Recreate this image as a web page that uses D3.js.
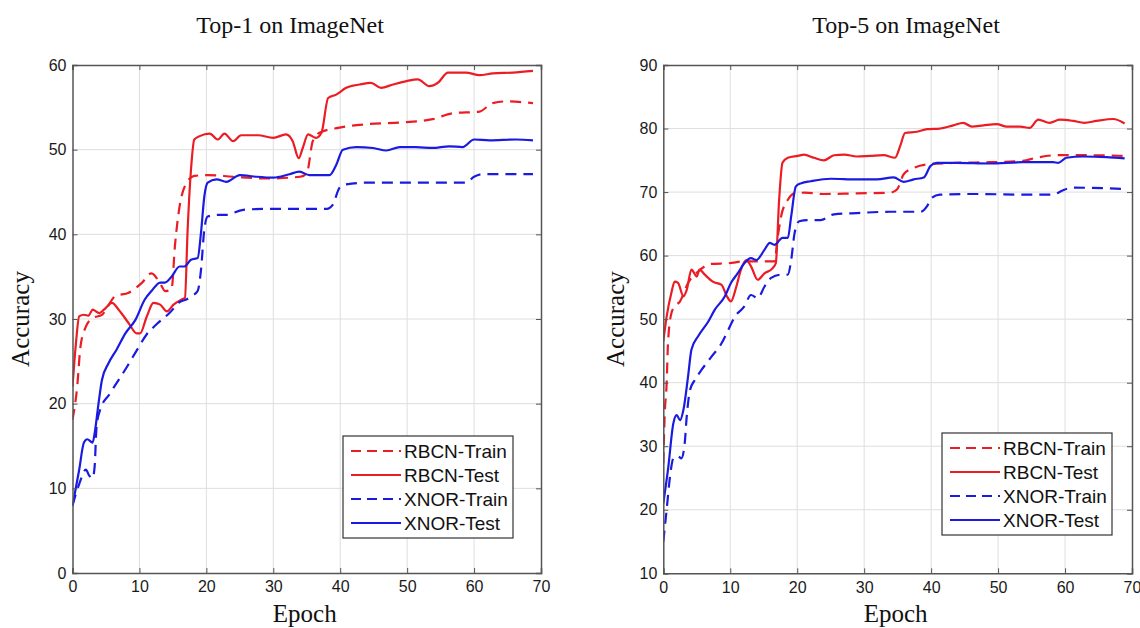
<!DOCTYPE html>
<html><head><meta charset="utf-8">
<script src="https://cdn.jsdelivr.net/npm/d3@7"></script>
<style>html,body{margin:0;padding:0;background:#fff;}svg{display:block;}</style>
</head><body>
<svg id="chart" width="1140" height="628"></svg>
<script>
// ---------- data: [epoch, accuracy] ----------
const seriesNames = ["RBCN-Train", "RBCN-Test", "XNOR-Train", "XNOR-Test"];
const top1XTicks = [0, 10, 20, 30, 40, 50, 60, 70];
const top1YTicks = [0, 10, 20, 30, 40, 50, 60];
const top5XTicks = [0, 10, 20, 30, 40, 50, 60, 70];
const top5YTicks = [10, 20, 30, 40, 50, 60, 70, 80, 90];

const top1RbcnTrain = [[0,18.1],[0.7,22],[1.2,26.8],[2,29.1],[3,30.1],[4.4,30.5],[6.4,32.7],[8.4,33.1],[10.4,34.3],[11.8,35.4],[13.3,33.9],[13.8,33.3],[14.8,33.5],[15.3,38.6],[16,43.3],[16.8,45.7],[18.2,46.9],[20.2,47.0],[24,46.8],[29,46.6],[34,46.8],[35,47.2],[35.9,51.0],[36.9,52.0],[39.9,52.6],[43.9,53.0],[48.9,53.2],[53.8,53.6],[56.8,54.3],[60.8,54.5],[62.8,55.5],[64.8,55.7],[68.8,55.5]];
const top1RbcnTest = [[0,22.0],[0.5,27],[1,30.3],[1.7,30.5],[2.4,30.4],[3,31.1],[4,30.7],[4.7,31.1],[5.9,31.9],[6.9,31.1],[8.4,29.5],[9.6,28.3],[10.1,28.3],[11.1,30.3],[12.1,31.9],[13.1,31.7],[14.1,30.9],[15.1,31.7],[16.3,32.3],[16.8,32.5],[17.2,40.5],[17.7,47.6],[18.2,51.2],[19,51.6],[20.5,51.9],[21.7,51.2],[22.7,51.9],[24,51.0],[25.2,51.7],[27.7,51.7],[30,51.4],[31.9,51.8],[32.9,51.0],[33.8,49.0],[34.4,50.2],[35.2,51.8],[36.4,51.4],[37.2,52.0],[38.2,56.1],[39.4,56.5],[40.9,57.3],[42.9,57.7],[44.6,57.9],[46.1,57.3],[47.9,57.7],[49.9,58.1],[51.6,58.3],[53.3,57.5],[54.6,57.9],[56.1,59.1],[58.8,59.1],[60.8,58.8],[62.8,59.0],[65.8,59.1],[68.8,59.3]];
const top1XnorTrain = [[0,8],[1,10.5],[2,12.2],[2.5,11.5],[3,11.2],[3.3,12.5],[3.6,17.3],[4.1,19.2],[5.6,21.2],[8.1,24.3],[9.6,26.3],[11.1,28.2],[12.6,29.4],[14.6,30.8],[16,32],[17,32.3],[18,32.8],[18.7,33.3],[19.2,35.8],[19.7,40.6],[20.2,42.1],[21.7,42.3],[23,42.3],[25.5,42.9],[29,43.0],[34,43.0],[38,43.0],[38.9,43.5],[39.9,45.5],[40.9,45.9],[43.9,46.1],[48.9,46.1],[53.8,46.1],[58.8,46.1],[60,46.8],[61.3,47.1],[68.8,47.1]];
const top1XnorTest = [[0,7.9],[1,12.2],[1.7,15.4],[2.2,15.8],[3,15.4],[3.4,17],[3.9,20.1],[4.4,22.8],[5.4,24.8],[6.6,26.4],[7.9,28.3],[9.4,29.9],[10.8,32.3],[11.8,33.3],[13.1,34.3],[13.8,34.3],[14.8,35.0],[16,36.2],[16.7,36.2],[17.7,37.0],[18.7,37.2],[19.2,40.2],[19.7,44.5],[20.2,46.1],[21.5,46.5],[23,46.2],[25,47.0],[27.5,46.8],[30,46.7],[32.4,47.1],[33.9,47.4],[35.4,47.0],[38.4,47.0],[39.4,48.2],[40.4,50.0],[42.4,50.3],[44.9,50.2],[46.9,49.9],[48.9,50.3],[51.3,50.3],[53.8,50.2],[56.3,50.4],[58.3,50.3],[60,51.2],[62.3,51.1],[66.3,51.2],[68.8,51.1]];

const top5RbcnTrain = [[0,27.3],[0.2,34.7],[0.5,39.9],[0.7,46.2],[1.2,50.9],[1.7,52],[2.5,52.8],[3.7,55.7],[5.2,57.5],[7.2,58.7],[9.8,58.8],[12.1,59.1],[14.6,59.1],[16.6,59.1],[17.1,63.0],[17.6,66.2],[18.6,68.8],[19.6,69.8],[21.1,69.9],[24,69.7],[28.9,69.8],[33.9,69.9],[34.9,70.4],[35.9,72.8],[37.4,73.8],[39.9,74.4],[43.8,74.6],[48.8,74.7],[53.7,74.9],[55.7,75.4],[58.7,75.8],[63.7,75.8],[68.6,75.7]];
const top5RbcnTest = [[0,46.5],[0.5,50.4],[1.2,54.1],[1.7,55.9],[2.2,55.7],[3,53.6],[3.5,54.6],[4.2,57.8],[5,56.7],[5.4,57.8],[6.2,57.0],[7.4,55.9],[8.7,55.4],[9.4,53.8],[10.1,52.8],[10.9,55.1],[11.6,57.8],[12.4,59.3],[13.1,58.3],[14.1,56.2],[15.1,57.2],[16.3,58.0],[16.8,58.8],[17.3,68.8],[17.8,74.6],[18.6,75.4],[20.1,75.7],[21,75.9],[22.5,75.4],[24,75.0],[25.5,75.8],[27,75.9],[28.9,75.6],[30.9,75.7],[32.9,75.8],[34.6,75.4],[35.4,77.3],[36.1,79.3],[37.9,79.5],[39.4,79.9],[41.3,80.0],[43.3,80.5],[44.8,80.9],[46.1,80.3],[47.8,80.5],[49.8,80.7],[51.3,80.3],[53.3,80.3],[54.7,80.1],[56,81.4],[57.7,80.9],[59.2,81.4],[61.2,81.2],[62.9,80.9],[64.7,81.2],[67.2,81.5],[68.9,80.8]];
const top5XnorTrain = [[0,15],[0.5,20],[1,25.2],[1.5,28.1],[2.2,28.4],[2.7,28.1],[3.2,30.5],[3.5,34.7],[4,38.9],[4.7,40.4],[5.7,42.0],[7.2,44.1],[8.7,46.2],[9.7,48.3],[10.7,50.4],[12.1,52.0],[13.1,53.8],[14.1,53.3],[15.1,55.1],[16.1,56.5],[17.6,57.0],[18.6,57.0],[19.1,59.3],[19.6,63.5],[20.3,65.4],[21.6,65.6],[23.5,65.6],[25.5,66.5],[28.9,66.7],[33.9,66.9],[38.4,66.9],[39.4,67.8],[40.1,69.1],[41.3,69.6],[46.3,69.7],[53.7,69.6],[58.2,69.6],[59.7,70.3],[61.2,70.7],[68.6,70.5]];
const top5XnorTest = [[0,21],[0.7,26.3],[1.5,33.6],[2,34.9],[2.5,34.1],[3,35.7],[3.7,41.0],[4.2,45.2],[5.2,47.3],[6.7,49.6],[7.7,51.5],[9.2,53.6],[10.1,55.7],[11.1,57.2],[12.1,58.8],[13.1,59.6],[13.9,59.3],[15.1,60.9],[15.9,62],[16.6,61.7],[17.8,62.8],[18.6,62.8],[19.1,66.2],[19.8,70.9],[20.6,71.4],[22,71.7],[25,72.1],[28.9,72.0],[31.9,72.0],[34.4,72.3],[35.9,71.6],[37.4,72.0],[38.9,72.3],[39.9,74.1],[40.8,74.6],[43.8,74.6],[48.8,74.5],[53.7,74.7],[58.2,74.7],[59,74.6],[60.2,75.4],[62.7,75.6],[66.2,75.5],[68.9,75.3]];

// ---------- drawing ----------
const svg = d3.select("#chart");
const RED = "#ec1c24", BLUE = "#1a1ae0";
const styles = [
  {color: RED, dash: "11,7"},
  {color: RED, dash: null},
  {color: BLUE, dash: "11,7"},
  {color: BLUE, dash: null}
];
const SERIF = "Liberation Serif, Times New Roman, serif";
const SANS = "Liberation Sans, Arial, sans-serif";

function panel(cfg) {
  const x = d3.scaleLinear().domain([0, 70]).range([cfg.left, cfg.right]);
  const y = d3.scaleLinear().domain(cfg.yDomain).range([cfg.bottom, cfg.top]);
  const g = svg.append("g");
  const id = "clip" + cfg.key;
  svg.append("defs").append("clipPath").attr("id", id).append("rect")
    .attr("x", cfg.left).attr("y", cfg.top)
    .attr("width", cfg.right - cfg.left).attr("height", cfg.bottom - cfg.top);

  // grid
  g.append("g").selectAll("line").data(cfg.xTicks.slice(1, -1)).join("line")
    .attr("x1", d => x(d)).attr("x2", d => x(d)).attr("y1", cfg.top).attr("y2", cfg.bottom)
    .attr("stroke", "#dedede").attr("stroke-width", 1);
  g.append("g").selectAll("line").data(cfg.yTicks.slice(1, -1)).join("line")
    .attr("y1", d => y(d)).attr("y2", d => y(d)).attr("x1", cfg.left).attr("x2", cfg.right)
    .attr("stroke", "#dedede").attr("stroke-width", 1);

  // lines
  const line = d3.line().x(d => x(d[0])).y(d => y(d[1])).curve(d3.curveMonotoneX);
  const lg = g.append("g").attr("clip-path", `url(#${id})`);
  cfg.series.forEach((s, i) => {
    lg.append("path").datum(s).attr("d", line).attr("fill", "none")
      .attr("stroke", styles[i].color).attr("stroke-width", 2.2)
      .attr("stroke-linejoin", "round")
      .attr("stroke-dasharray", styles[i].dash);
  });

  // axes (box with inward ticks)
  const axColor = "#555";
  const ax = d3.axisBottom(x).tickValues(cfg.xTicks).tickSize(-5).tickPadding(8).tickFormat(d3.format("d"));
  const ay = d3.axisLeft(y).tickValues(cfg.yTicks).tickSize(-5).tickPadding(6).tickFormat(d3.format("d"));
  const gx = g.append("g").attr("transform", `translate(0,${cfg.bottom})`).call(ax);
  const gy = g.append("g").attr("transform", `translate(${cfg.left},0)`).call(ay);
  const gx2 = g.append("g").attr("transform", `translate(0,${cfg.top})`)
    .call(d3.axisTop(x).tickValues(cfg.xTicks).tickSize(-5).tickFormat(""));
  const gy2 = g.append("g").attr("transform", `translate(${cfg.right},0)`)
    .call(d3.axisRight(y).tickValues(cfg.yTicks).tickSize(-5).tickFormat(""));
  [gx, gy, gx2, gy2].forEach(a => {
    a.select(".domain").attr("stroke", axColor).attr("stroke-width", 1.5);
    a.selectAll(".tick line").attr("stroke", axColor);
    a.selectAll("text").attr("fill", "#1a1a1a").style("font-family", SANS).style("font-size", "16px");
  });

  // titles / labels
  g.append("text").attr("x", cfg.titleX).attr("y", 33).attr("text-anchor", "middle")
    .style("font-family", SERIF).style("font-size", "24px")
    .attr("fill", "#111").text(cfg.title);
  g.append("text").attr("x", (cfg.left + cfg.right) / 2 - 2).attr("y", 622).attr("text-anchor", "middle")
    .style("font-family", SERIF).style("font-size", "25px")
    .attr("fill", "#111").text("Epoch");
  g.append("text").attr("transform", `translate(${cfg.yLabelX},${(cfg.top + cfg.bottom) / 2}) rotate(-90)`)
    .attr("text-anchor", "middle")
    .style("font-family", SERIF).style("font-size", "25px")
    .attr("fill", "#111").text("Accuracy");

  // legend
  const L = g.append("g").attr("transform", `translate(${cfg.legX},${cfg.legY})`);
  L.append("rect").attr("width", 170).attr("height", 102).attr("fill", "#fff")
    .attr("stroke", "#333").attr("stroke-width", 1.2);
  seriesNames.forEach((n, i) => {
    const yy = 15 + i * 24;
    L.append("line").attr("x1", 8).attr("x2", 58).attr("y1", yy).attr("y2", yy)
      .attr("stroke", styles[i].color).attr("stroke-width", 2.2)
      .attr("stroke-dasharray", styles[i].dash ? "10,6" : null);
    L.append("text").attr("x", 61).attr("y", yy).attr("dy", "0.35em")
      .style("font-family", SANS).style("font-size", "19px")
      .attr("fill", "#111").text(n);
  });
}

panel({key: "a", left: 72.5, right: 541, top: 65, bottom: 573, yDomain: [0, 60],
  xTicks: top1XTicks, yTicks: top1YTicks, title: "Top-1 on ImageNet", titleX: 290, yLabelX: 29,
  legX: 343, legY: 436,
  series: [top1RbcnTrain, top1RbcnTest, top1XnorTrain, top1XnorTest]});
panel({key: "b", left: 663.3, right: 1132, top: 65, bottom: 573.3, yDomain: [10, 90],
  xTicks: top5XTicks, yTicks: top5YTicks, title: "Top-5 on ImageNet", titleX: 906, yLabelX: 624,
  legX: 942, legY: 433,
  series: [top5RbcnTrain, top5RbcnTest, top5XnorTrain, top5XnorTest]});
</script>
</body></html>
